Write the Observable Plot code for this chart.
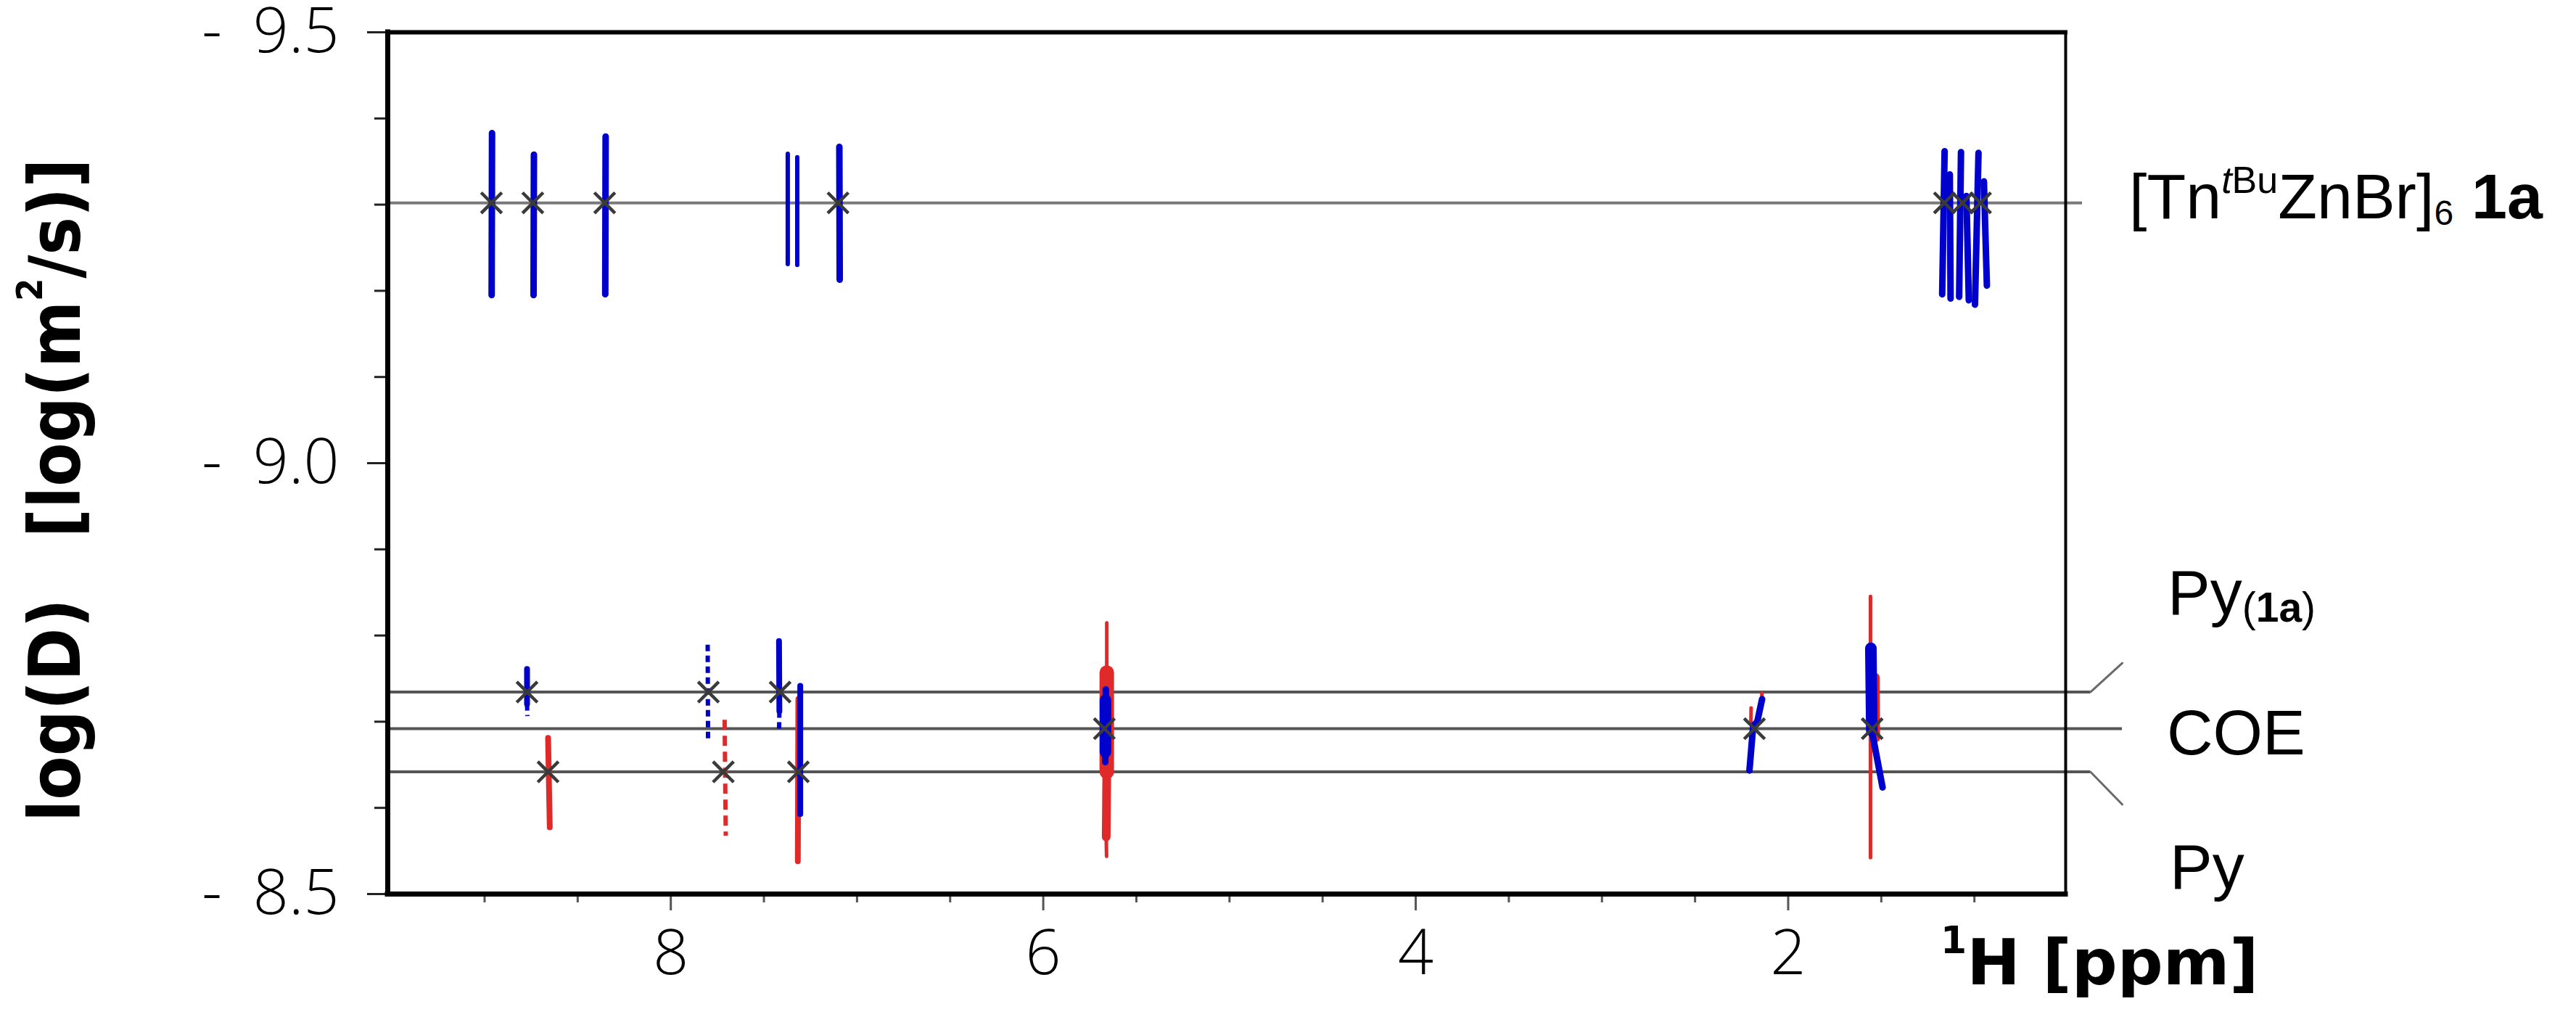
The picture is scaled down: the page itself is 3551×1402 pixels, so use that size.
<!DOCTYPE html>
<html><head><meta charset="utf-8">
<script src="https://cdn.jsdelivr.net/npm/d3@7"></script>
<script src="https://cdn.jsdelivr.net/npm/@observablehq/plot@0.6"></script>
<style>
html,body{margin:0;padding:0;background:#fff;}
#chart svg{display:block;overflow:visible;}
</style></head><body><div id="chart"></div>
<script>
// ---------------- data ----------------
const xTicksMajor = [8, 6, 4, 2];
const xTicksMinor = [9, 8.5, 7.5, 7, 6.5, 5.5, 5, 4.5, 3.5, 3, 2.5, 1.5, 1];
const yTicksMajor = [-9.5, -9.0, -8.5];
const yTicksMinor = [-9.4, -9.3, -9.2, -9.1, -8.9, -8.8, -8.7, -8.6];

// diffusion coefficient (log D) of each species line
const componentNames = ["1a", "Py(1a)", "COE", "Py"];
const componentLogD = [-9.302, -8.7344, -8.6919, -8.6418];
const componentLineEnd = [0.420, 0.377, 0.206, 0.377];
const leaderEnds = [[0.377, -8.7344, 0.206, -8.768], [0.377, -8.6418, 0.206, -8.604]];

// cross-peak markers (ppm) on each line
const markers1a = [8.963, 8.741, 8.355, 7.102, 1.161, 1.064, 0.967];
const markersPy1a = [8.772, 7.798, 7.413];
const markersCOE = [5.672, 2.181, 1.549];
const markersPy = [8.659, 7.718, 7.315];

// signal traces: [ppm1, logD1, ppm2, logD2]
const blue1a = [
  [8.960, -9.383, 8.962, -9.195],
  [8.735, -9.358, 8.737, -9.195],
  [8.350, -9.379, 8.352, -9.196],
  [7.095, -9.367, 7.093, -9.213],
  [1.160, -9.362, 1.173, -9.196],
  [1.132, -9.335, 1.128, -9.191],
  [1.072, -9.361, 1.082, -9.193],
  [1.043, -9.310, 1.030, -9.189],
  [0.978, -9.360, 0.997, -9.184],
  [0.949, -9.327, 0.933, -9.206]
];
const blue1aThin = [
  [7.372, -9.359, 7.372, -9.231],
  [7.321, -9.355, 7.321, -9.230]
];
const bluePy1a = [
  [8.772, -8.7612, 8.772, -8.7205],
  [7.419, -8.7935, 7.417, -8.7121],
  [7.305, -8.7416, 7.305, -8.5928]
];
const bluePy1aDotted = [
  [8.772, -8.7205, 8.770, -8.7065],
  [7.802, -8.7893, 7.800, -8.6757],
  [7.417, -8.7121, 7.419, -8.6869]
];
const redPy = [
  [8.659, -8.6812, 8.650, -8.5774],
  [7.315, -8.7262, 7.318, -8.5381]
];
const redPyDashed = [
  [7.711, -8.7023, 7.705, -8.5676]
];
const redCOEcore = [
  [5.659, -8.757, 5.659, -8.642]
];
const redCOEmid = [
  [5.659, -8.642, 5.662, -8.5663],
  [1.532, -8.7514, 1.530, -8.6812]
];
const redCOEthin = [
  [5.659, -8.8145, 5.659, -8.757],
  [5.662, -8.5663, 5.660, -8.5438],
  [1.558, -8.8454, 1.558, -8.5423],
  [2.199, -8.716, 2.200, -8.700],
  [2.141, -8.733, 2.143, -8.722]
];
const blueCOEcore = [
  [5.666, -8.725, 5.666, -8.665],
  [1.556, -8.7851, 1.551, -8.6896]
];
const blueCOE = [
  [5.664, -8.7374, 5.667, -8.6532],
  [2.208, -8.6434, 2.188, -8.695],
  [2.188, -8.695, 2.166, -8.700],
  [2.166, -8.700, 2.140, -8.7262],
  [1.551, -8.6896, 1.493, -8.6237]
];

// ---------------- chart ----------------
const BLUE = "#0000cc", RED = "#e02a2a";
const seg = {x1: d => d[0], y1: d => d[1], x2: d => d[2], y2: d => d[3], strokeLinecap: "round"};
const componentRows = componentNames.map((n, i) => ({name: n, logD: componentLogD[i], end: componentLineEnd[i]}));
const markerRows = [
  ...markers1a.map(p => ({ppm: p, logD: componentLogD[0]})),
  ...markersPy1a.map(p => ({ppm: p, logD: componentLogD[1]})),
  ...markersCOE.map(p => ({ppm: p, logD: componentLogD[2]})),
  ...markersPy.map(p => ({ppm: p, logD: componentLogD[3]}))
];

const plot = Plot.plot({
  width: 3551, height: 1402,
  marginLeft: 534, marginRight: 704, marginTop: 44, marginBottom: 170,
  x: {domain: [9.52, 0.51]},
  y: {domain: [-8.5, -9.5]},
  style: {fontFamily: "'Open Sans', sans-serif", fontWeight: 300, color: "black", background: "white"},
  marks: [
    Plot.ruleY(componentRows, {y: "logD", x1: 9.52, x2: "end", stroke: d => d.name === "1a" ? "#7a7a7a" : "#555", strokeWidth: 4}),
    Plot.link(leaderEnds, {...seg, stroke: "#6a6a6a", strokeWidth: 3}),
    Plot.link(redCOEthin, {...seg, stroke: RED, strokeWidth: 5}),
    Plot.link(redCOEmid, {...seg, stroke: RED, strokeWidth: 12}),
    Plot.link(redCOEcore, {...seg, stroke: RED, strokeWidth: 20}),
    Plot.link(redPy, {...seg, stroke: RED, strokeWidth: 8}),
    Plot.link(redPyDashed, {...seg, stroke: RED, strokeWidth: 6, strokeDasharray: "14,8", strokeLinecap: "butt"}),
    Plot.link(blue1a, {...seg, stroke: BLUE, strokeWidth: 9}),
    Plot.link(blue1aThin, {...seg, stroke: BLUE, strokeWidth: 6}),
    Plot.link(bluePy1a, {...seg, stroke: BLUE, strokeWidth: 8}),
    Plot.link(bluePy1aDotted, {...seg, stroke: BLUE, strokeWidth: 6, strokeDasharray: "9,6", strokeLinecap: "butt"}),
    Plot.link(blueCOE, {...seg, stroke: BLUE, strokeWidth: 9}),
    Plot.link(blueCOEcore, {...seg, stroke: BLUE, strokeWidth: 16}),
    Plot.dot(markerRows, {x: "ppm", y: "logD", symbol: "times", r: 13, stroke: "#3a3a3a", strokeWidth: 4.5}),
    // axes
    Plot.axisY({ticks: yTicksMajor, tickSize: 28, tickPadding: 39, fontSize: 86, label: null, stroke: "#222", strokeWidth: 3,
      tickFormat: d => "-\u2002" + Math.abs(d).toFixed(1)}),
    Plot.axisY({ticks: yTicksMinor, tickSize: 18, text: null, label: null, stroke: "#222", strokeWidth: 3}),
    Plot.axisX({ticks: xTicksMajor, tickSize: 23, tickPadding: 26, fontSize: 86, label: null, stroke: "#555", strokeWidth: 3,
      tickFormat: d => String(d)}),
    Plot.axisX({ticks: xTicksMinor, tickSize: 12, text: null, label: null, stroke: "#555", strokeWidth: 3}),
    // frame
    Plot.ruleY([-9.5], {stroke: "black", strokeWidth: 6, strokeLinecap: "square"}),
    Plot.ruleY([-8.5], {stroke: "black", strokeWidth: 7, strokeLinecap: "square"}),
    Plot.ruleX([9.52], {stroke: "black", strokeWidth: 7, strokeLinecap: "square"}),
    Plot.ruleX([0.51], {stroke: "black", strokeWidth: 4})
  ]
});
document.getElementById("chart").appendChild(plot);

// ---------------- labels ----------------
const svg = d3.select(plot);
const xs = plot.scale("x"), ys = plot.scale("y");
const xRight = xs.apply(0.51);
const LAB = "'Liberation Sans', Arial, sans-serif";

function label(x, y) {
  return svg.append("text").attr("x", x).attr("y", y).attr("text-anchor", "start")
    .attr("font-family", LAB).attr("font-size", 88).attr("font-weight", "normal").attr("fill", "black");
}
// [Tn tBu ZnBr]6 1a
const t1 = label(xRight + 88, ys.apply(componentLogD[0]) + 22);
t1.append("tspan").text("[Tn");
t1.append("tspan").attr("font-size", 52).attr("dy", -35).attr("font-style", "italic").text("t");
t1.append("tspan").attr("font-size", 52).text("Bu");
t1.append("tspan").attr("dy", 35).text("ZnBr]");
t1.append("tspan").attr("font-size", 48).attr("dy", 9).text("6");
t1.append("tspan").attr("dy", -9).attr("dx", 25).attr("font-weight", "bold").text("1a");

// Py(1a)
const t2 = label(xRight + 141, ys.apply(leaderEnds[0][3]) - 67);
t2.append("tspan").text("Py");
t2.append("tspan").attr("font-size", 57).attr("dy", 10).text("(");
t2.append("tspan").attr("font-size", 57).attr("font-weight", "bold").text("1a");
t2.append("tspan").attr("font-size", 57).text(")");

// COE
label(xRight + 140, ys.apply(componentLogD[2]) + 36).text("COE");
// Py
label(xRight + 144, ys.apply(leaderEnds[1][3]) + 117).text("Py");

// y axis title (rotated)
const yt = svg.append("text")
  .attr("transform", `translate(110, 1133) rotate(-90)`)
  .attr("text-anchor", "start")
  .attr("font-family", "'DejaVu Sans Condensed', 'DejaVu Sans', sans-serif")
  .attr("font-stretch", "condensed")
  .attr("font-weight", "bold").attr("font-size", 98).attr("fill", "black");
yt.append("tspan").text("log(D)");
yt.append("tspan").attr("dx", 84).text("[log(m");
yt.append("tspan").attr("font-size", 50).attr("dy", -52).text("2");
yt.append("tspan").attr("dy", 52).text("/s)]");

// x axis title
const xt = svg.append("text").attr("x", 2675).attr("y", 1357).attr("text-anchor", "start")
  .attr("font-family", "'DejaVu Sans', sans-serif").attr("font-weight", "bold").attr("font-size", 88).attr("fill", "black");
xt.append("tspan").attr("font-size", 52).attr("dy", -43).text("1");
xt.append("tspan").attr("dy", 43).text("H [ppm]");
</script></body></html>
